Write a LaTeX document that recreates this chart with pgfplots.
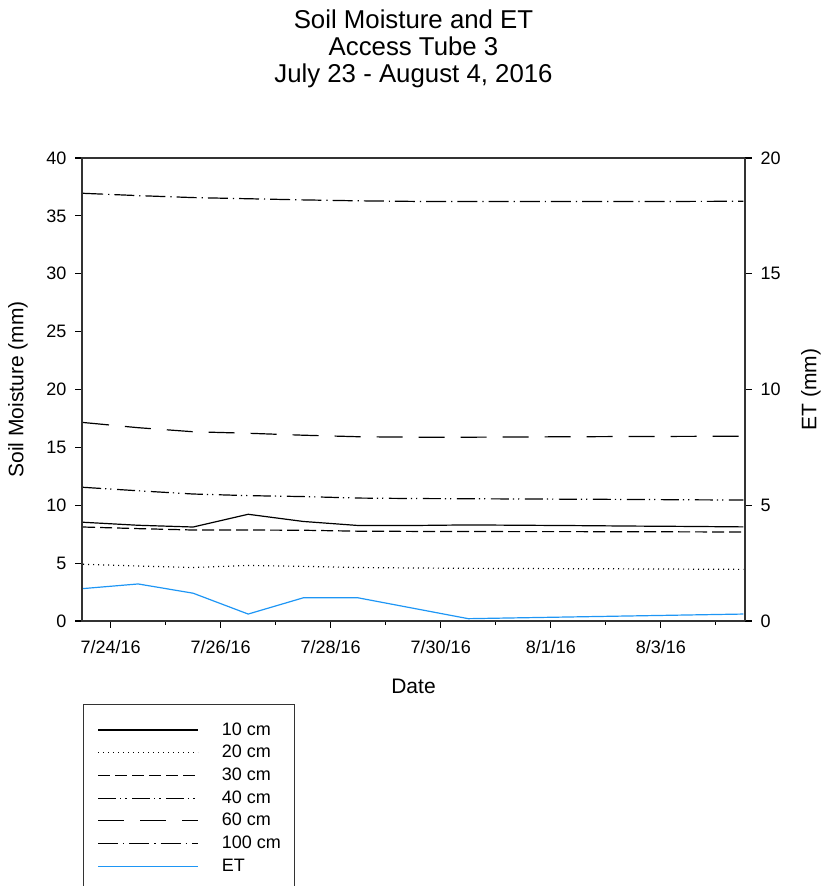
\documentclass[border=0pt]{standalone}
\usepackage{pgfplots}
\pgfplotsset{compat=1.18}
\usepackage{fontspec}
\setmainfont{Liberation Sans}
\definecolor{etblue}{RGB}{30,150,245}
\pgfplotstableread{
d c10 c20 c30 c40 c60 c100 et
0 8.53 4.90 8.12 11.55 17.15 36.95 1.40
1 8.27 4.75 7.98 11.25 16.70 36.75 1.60
2 8.12 4.62 7.86 10.97 16.35 36.58 1.20
3 9.22 4.80 7.86 10.83 16.22 36.48 0.30
4 8.60 4.72 7.84 10.75 16.05 36.38 1.00
5 8.25 4.62 7.76 10.62 15.92 36.30 1.00
6 8.25 4.58 7.74 10.58 15.88 36.25 0.55
7 8.30 4.55 7.73 10.56 15.88 36.25 0.10
8 8.27 4.53 7.72 10.54 15.90 36.25 0.14
9 8.24 4.52 7.72 10.52 15.92 36.25 0.18
10 8.20 4.50 7.71 10.50 15.94 36.25 0.22
11 8.17 4.48 7.70 10.47 15.95 36.25 0.26
12 8.13 4.46 7.69 10.45 15.97 36.26 0.30
}\data
\tikzset{
  s10/.style={black, solid, line width=0.6pt},
  s20/.style={black, line width=0.6pt, dash pattern=on 0.5pt off 2pt},
  s30/.style={black, line width=0.6pt, dash pattern=on 6pt off 2.5pt},
  s40/.style={black, line width=0.6pt, dash pattern=on 9pt off 2pt on 0.6pt off 2pt on 0.6pt off 2.8pt},
  s60/.style={black, line width=0.6pt, dash pattern=on 13pt off 8pt},
  s100/.style={black, line width=0.6pt, dash pattern=on 10pt off 2.5pt on 0.6pt off 2.5pt},
  set/.style={etblue, solid, line width=0.6pt},
}
\begin{document}
\begin{tikzpicture}
\pgfplotsset{
  common/.style={
    scale only axis, width=331.5pt, height=231.5pt,
    at={(41pt,132.5pt)}, anchor=south west,
    xmin=-0.02, xmax=12.03,
    tick align=outside,
    major tick length=3.3pt, minor tick length=2pt,
    tick style={black, line width=0.6pt},
    axis line style={black!80, line width=0.7pt},
    ticklabel style={font=\fontsize{9}{10}\selectfont},
    /pgf/number format/assume math mode=true,
    label style={font=\fontsize{10.5}{12}\selectfont},
  }
}
\begin{axis}[common,
  ymin=0, ymax=40, ytick={0,5,...,40},
  xtick={0.5,2.5,4.5,6.5,8.5,10.5},
  xticklabels={7/24/16,7/26/16,7/28/16,7/30/16,8/1/16,8/3/16},
  minor xtick={1.5,3.5,5.5,7.5,9.5,11.5},
  xtick pos=bottom, ytick pos=left,
  xticklabel style={yshift=-3pt},
  yticklabel style={xshift=-1pt},
  xlabel={Date},
  xlabel style={at={(axis description cs:0.5,-0.1404)}, anchor=center},
  ylabel={Soil Moisture (mm)},
  ylabel style={at={(axis description cs:-0.0965,0.5)}, anchor=center},
  title={Soil Moisture and ET\\Access Tube 3\\July 23 - August 4, 2016},
  title style={align=center, font=\fontsize{12.9}{13.5}\selectfont, inner sep=0pt,
    at={(axis description cs:0.5,1.125)}, anchor=south},
  legend style={at={(axis description cs:0,0)}, anchor=north west,
    xshift=0.5pt, yshift=-41.5pt,
    draw=black!80, line width=0.6pt,
    font=\fontsize{9}{11}\selectfont,
    inner xsep=7pt, inner ysep=8.2pt,
    nodes={inner sep=0pt, text height=7pt, text depth=2pt},
    row sep=2.35pt, column sep=11.5pt},
  legend cell align=left,
  legend image code/.code={\draw[#1] (0pt,0pt) -- (50pt,0pt);},
]
\addplot[s10] table[x=d,y=c10] {\data}; \addlegendentry{10 cm}
\addplot[s20] table[x=d,y=c20] {\data}; \addlegendentry{20 cm}
\addplot[s30] table[x=d,y=c30] {\data}; \addlegendentry{30 cm}
\addplot[s40] table[x=d,y=c40] {\data}; \addlegendentry{40 cm}
\addplot[s60] table[x=d,y=c60] {\data}; \addlegendentry{60 cm}
\addplot[s100] table[x=d,y=c100] {\data}; \addlegendentry{100 cm}
\addlegendimage{set}\addlegendentry{ET}
\end{axis}
\begin{axis}[common,
  ymin=0, ymax=20, ytick={0,5,...,20},
  axis x line=none, axis y line*=right,
  yticklabel style={xshift=1pt},
  ylabel={ET (mm)},
  ylabel style={at={(axis description cs:1.0995,0.5)}, anchor=center, rotate=0},
]
\addplot[set] table[x=d,y=et] {\data};
\end{axis}
\pgfresetboundingbox
\path[use as bounding box] (0,0) rectangle (411pt,443pt);
\end{tikzpicture}
\end{document}
